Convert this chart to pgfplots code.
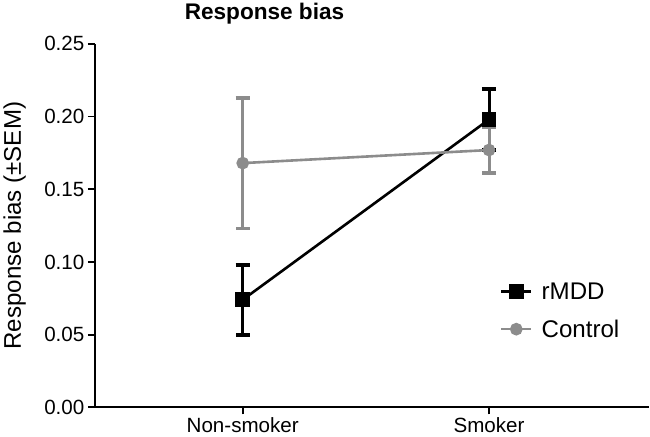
\documentclass[border=0pt]{standalone}
\usepackage{pgfplots}
\pgfplotsset{compat=1.18}
\usepackage{fontspec}
\setmainfont{Liberation Sans}
\definecolor{ctrlgray}{RGB}{140,140,140}

\begin{document}
\begin{tikzpicture}
\begin{axis}[
    width=552pt, height=362pt, scale only axis,
    xmin=-0.6, xmax=1.65, ymin=0, ymax=0.25,
    axis x line*=bottom, axis y line*=left,
    axis line style={line width=1.8pt, -},
    xtick={0,1}, xticklabels={Non-smoker,Smoker},
    ytick={0,0.05,0.10,0.15,0.20,0.25},
    tick align=outside, major tick length=7pt,
    tick style={line width=1.8pt, black},
    tick label style={font=\fontsize{20.5}{24}\selectfont},
    yticklabel style={/pgf/number format/fixed,
        /pgf/number format/precision=2,
        /pgf/number format/fixed zerofill},
    /pgf/number format/assume math mode=true,
    title={Response bias},
    title style={at={(axis description cs:0.306,1.05)}, anchor=base,
        font=\fontsize{22.5}{27}\selectfont\bfseries},
    ylabel={Response bias (±SEM)},
    ylabel style={at={(axis description cs:-0.145,0.5)}, anchor=center,
        font=\fontsize{24}{28}\selectfont},
    legend style={at={(axis description cs:0.725,0.355)}, anchor=north west,
        draw=none, fill=none, row sep=15pt,
        font=\fontsize{24}{28}\selectfont},
    legend cell align=left,
    legend image code/.code={
        \draw[mark repeat=2, mark phase=2]
        plot coordinates {(0pt,0pt) (15pt,0pt) (30pt,0pt)};
        \path (37pt,0pt);},
]
\addplot[black, line width=2.6pt, mark=square*, mark size=6pt,
    error bars/.cd, y dir=both, y explicit,
    error bar style={line width=3pt},
    error mark options={rotate=90, mark size=7pt, line width=3.8pt}]
    coordinates {
    (0, 0.074) +- (0, 0.024)
    (1, 0.198) +- (0, 0.021)
};
\addlegendentry{rMDD}
\addplot[ctrlgray, line width=2.6pt, mark=*, mark size=5pt,
    error bars/.cd, y dir=both, y explicit,
    error bar style={line width=3pt},
    error mark options={rotate=90, mark size=7pt, line width=3.8pt}]
    coordinates {
    (0, 0.168) +- (0, 0.045)
    (1, 0.177) +- (0, 0.016)
};
\addlegendentry{Control}
\end{axis}
\end{tikzpicture}
\end{document}
